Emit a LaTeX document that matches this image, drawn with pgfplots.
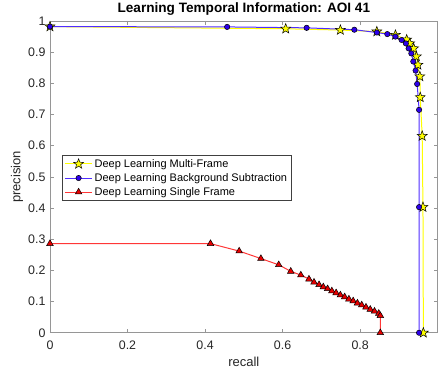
\documentclass[border=0pt]{standalone}
\usepackage{pgfplots}
\pgfplotsset{compat=1.18}
\usepackage{fontspec}
\setmainfont{Liberation Sans}

\definecolor{mfline}{RGB}{255,255,0}
\definecolor{mffill}{RGB}{255,255,0}
\definecolor{bsline}{RGB}{80,45,255}
\definecolor{bsfill}{RGB}{45,0,235}
\definecolor{sfline}{RGB}{255,55,55}
\definecolor{sffill}{RGB}{230,0,0}
\definecolor{axgray}{RGB}{150,150,150}
\definecolor{txtgray}{RGB}{38,38,38}

% filled five-pointed star
\pgfdeclareplotmark{pstar}{%
  \pgfpathmoveto{\pgfpointpolar{90}{\pgfplotmarksize}}%
  \pgfpathlineto{\pgfpointpolar{126}{0.42\pgfplotmarksize}}%
  \pgfpathlineto{\pgfpointpolar{162}{\pgfplotmarksize}}%
  \pgfpathlineto{\pgfpointpolar{198}{0.42\pgfplotmarksize}}%
  \pgfpathlineto{\pgfpointpolar{234}{\pgfplotmarksize}}%
  \pgfpathlineto{\pgfpointpolar{270}{0.42\pgfplotmarksize}}%
  \pgfpathlineto{\pgfpointpolar{306}{\pgfplotmarksize}}%
  \pgfpathlineto{\pgfpointpolar{342}{0.42\pgfplotmarksize}}%
  \pgfpathlineto{\pgfpointpolar{18}{\pgfplotmarksize}}%
  \pgfpathlineto{\pgfpointpolar{54}{0.42\pgfplotmarksize}}%
  \pgfpathclose
  \pgfusepathqfillstroke}

\begin{document}
\begin{tikzpicture}
\begin{axis}[
  name=ax,
  width=388pt, height=312pt, scale only axis,
  xmin=0, xmax=1, ymin=0, ymax=1,
  xtick={0,0.2,0.4,0.6,0.8},
  ytick={0,0.1,0.2,0.3,0.4,0.5,0.6,0.7,0.8,0.9,1},
  xticklabels={0,0.2,0.4,0.6,0.8},
  yticklabels={0,0.1,0.2,0.3,0.4,0.5,0.6,0.7,0.8,0.9,1},
  tick align=inside,
  major tick length=4pt,
  axis line style={draw=axgray, line width=0.6pt},
  every tick/.style={draw=axgray, line width=0.6pt},
  tick label style={font=\fontsize{12.4}{14}\selectfont, text=txtgray},
  xticklabel style={anchor=base, yshift=-17pt},
  yticklabel style={xshift=-1pt},
  title={Learning Temporal Information: AOI 41},
  title style={font=\fontsize{13.6}{16}\selectfont\bfseries, at={(axis description cs:0.5,1)}, anchor=base, yshift=2.5pt},
  xlabel={recall},
  ylabel={precision},
  label style={font=\fontsize{13}{15}\selectfont, text=txtgray},
  xlabel style={at={(axis description cs:0.5,-0.109)}, anchor=base},
  ylabel style={at={(axis description cs:-0.085,0.5)}, anchor=center, rotate=0},
  legend style={at={(axis cs:0.032,0.424)}, anchor=south west,
    font=\fontsize{11}{13}\selectfont, draw=black!75, line width=0.5pt,
    inner xsep=2pt, inner ysep=1.5pt, row sep=0.6pt, cells={anchor=west}},
  legend image code/.code={\draw[mark repeat=2,mark phase=2] plot coordinates {(0pt,0pt) (13.5pt,0pt) (27pt,0pt)};},
  clip=false,
]
% multi-frame
\addplot[color=mfline, line width=1pt, mark=pstar, mark size=5.2pt,
  mark options={fill=mffill, draw=black, line width=0.5pt}] coordinates {
  (0,0.982) (0.608,0.975) (0.749,0.971) (0.843,0.966) (0.891,0.955)
  (0.920,0.940) (0.928,0.928) (0.938,0.912) (0.945,0.886) (0.949,0.859)
  (0.954,0.822) (0.955,0.755) (0.960,0.631) (0.962,0.403) (0.963,0)
};
\addlegendentry{Deep Learning Multi-Frame}
% background subtraction
\addplot[color=bsline, line width=1pt, mark=*, mark size=2.7pt,
  mark options={fill=bsfill, draw=black, line width=0.5pt}] coordinates {
  (0,0.982) (0.457,0.981) (0.662,0.978) (0.785,0.972) (0.843,0.963)
  (0.870,0.958) (0.891,0.950) (0.907,0.939) (0.918,0.928) (0.925,0.912)
  (0.932,0.896) (0.937,0.870) (0.943,0.841) (0.947,0.798) (0.952,0.715)
  (0.952,0.403) (0.952,0)
};
\addlegendentry{Deep Learning Background Subtraction}
% single frame
\addplot[color=sfline, line width=1pt, mark=triangle*, mark size=3.8pt,
  mark options={fill=sffill, draw=black, line width=0.5pt}] coordinates {
  (0,0.286) (0.414,0.286) (0.488,0.262) (0.544,0.238) (0.590,0.218)
  (0.621,0.197) (0.647,0.185) (0.668,0.172) (0.681,0.162) (0.694,0.154)
  (0.705,0.147) (0.716,0.141) (0.727,0.134) (0.738,0.128) (0.749,0.121)
  (0.760,0.115) (0.771,0.108) (0.782,0.102) (0.793,0.095) (0.804,0.089)
  (0.815,0.082) (0.826,0.075) (0.837,0.069) (0.848,0.062) (0.852,0.055)
  (0.852,0)
};
\addlegendentry{Deep Learning Single Frame}
\end{axis}
\pgfresetboundingbox
\path ([shift={(-50pt,-37pt)}]ax.south west) rectangle ([shift={(0.3pt,21pt)}]ax.north east);
\end{tikzpicture}
\end{document}
